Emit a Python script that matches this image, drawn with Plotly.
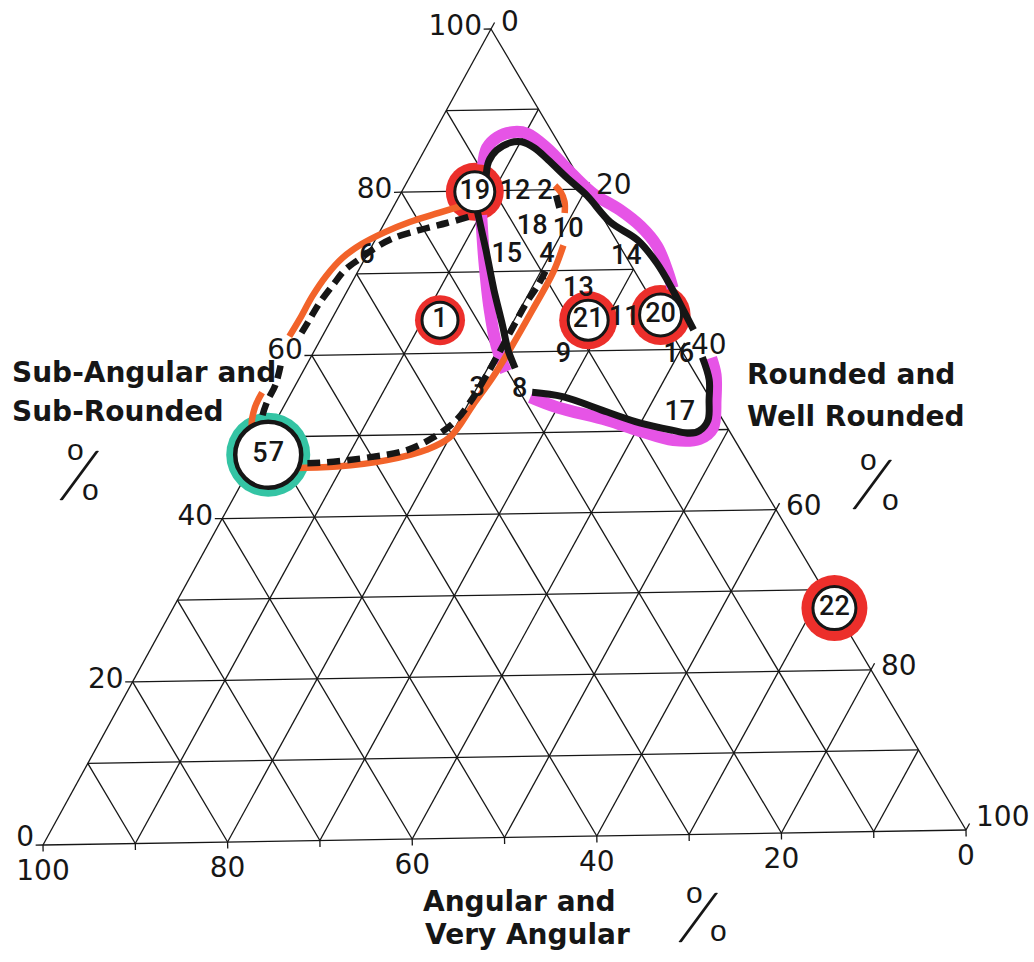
import plotly.graph_objects as go

# ---------------------------------------------------------------------------
# Sample compositions (percent).  a = Sub-Angular and Sub-Rounded (apex),
# b = Angular and Very Angular (lower left), c = Rounded and Well Rounded
# (lower right).
# ---------------------------------------------------------------------------
sample_ids = ["1", "2", "3", "4", "5", "6", "7", "8", "9", "10", "11",
              "12", "13", "14", "15", "16", "17", "18", "19", "20", "21", "22"]
sub_angular = [64.1, 79.7, 55.5, 71.9, 47.8, 72.1, 47.8, 55.3, 59.5, 75.0, 64.0,
               79.8, 67.6, 71.5, 72.0, 59.3, 52.1, 75.4, 79.9, 64.3, 63.8, 27.7]
angular = [24.0, 4.6, 24.4, 8.4, 51.9, 27.8, 50.1, 19.9, 13.0, 4.5, 4.1,
           7.8, 7.2, 0.0, 12.7, 0.6, 4.2, 8.2, 12.1, 0.0, 8.1, 0.0]
rounded = [11.9, 15.7, 20.1, 19.7, 0.3, 0.1, 2.1, 24.8, 27.5, 20.5, 31.9,
           12.4, 25.2, 28.5, 15.3, 40.1, 43.7, 16.4, 8.0, 35.7, 28.1, 72.3]

ringed_red = ["1", "19", "20", "21", "22"]
ringed_teal = ["5", "7"]

# Hand-drawn envelopes, as (a, b, c) vertices
black_top = [(81.6, 10.0, 8.4), (83.6, 8.7, 7.7), (85.0, 7.1, 7.9), (85.9, 5.2, 8.9),
             (86.0, 3.9, 10.1), (85.2, 2.9, 11.9), (83.7, 2.2, 14.1), (81.4, 1.3, 17.3),
             (79.2, 0.3, 20.5), (75.9, -0.5, 24.6), (73.6, -2.3, 28.7), (70.7, -2.9, 32.2),
             (67.4, -2.9, 35.5), (64.0, -2.7, 38.7), (62.4, -2.6, 40.2)]
black_bottom = [(59.0, -1.8, 42.8), (56.2, -1.1, 44.9), (53.7, 0.2, 46.1), (51.2, 1.6, 47.2),
                (49.9, 3.2, 46.9), (49.6, 4.4, 46.0), (50.0, 6.0, 44.0), (51.0, 9.1, 39.9),
                (52.4, 11.9, 35.7), (54.4, 15.7, 29.9), (55.0, 18.7, 26.3)]
black_stem = [(77.7, 13.0, 9.3), (72.7, 14.6, 12.7), (67.7, 16.3, 16.0),
              (63.4, 17.6, 19.0), (60.3, 18.6, 21.1), (58.0, 19.0, 23.0)]

magenta_top = [(83.2, 9.5, 7.3), (85.3, 8.0, 6.7), (86.6, 6.2, 7.2), (87.2, 4.3, 8.5),
               (87.0, 2.8, 10.2), (85.2, 1.6, 13.2), (81.8, 0.5, 17.7), (79.4, -0.5, 21.1),
               (77.4, -2.3, 24.9), (75.3, -3.5, 28.2), (72.8, -4.0, 31.2), (69.6, -3.5, 33.9),
               (67.6, -3.0, 35.4)]
magenta_stem = [(77.0, 12.9, 10.1), (71.5, 15.4, 13.1), (65.3, 18.0, 16.7),
                (60.7, 19.6, 19.7), (57.6, 20.2, 22.2)]
magenta_bottom = [(54.4, 19.2, 26.4), (53.1, 17.0, 29.9), (51.4, 12.4, 36.2), (50.0, 9.6, 40.4),
                  (48.8, 6.6, 44.6), (48.9, 3.7, 47.4), (50.2, 1.6, 48.2), (53.7, -0.5, 46.8),
                  (56.8, -2.1, 45.3), (58.9, -2.7, 43.8)]

orange_upper = [(78.2, 14.4, 7.4), (77.4, 17.2, 5.4), (76.3, 21.0, 2.7), (75.1, 24.3, 0.6),
                (73.7, 27.5, -1.2), (72.0, 30.5, -2.5), (69.8, 33.4, -3.2), (67.3, 36.2, -3.5),
                (64.6, 38.9, -3.5), (62.4, 41.2, -3.6)]
orange_left = [(55.5, 47.7, -3.2), (53.7, 49.4, -3.1), (51.3, 51.0, -2.3), (49.7, 51.5, -1.2)]
orange_lower = [(46.1, 49.5, 4.4), (46.2, 44.4, 9.4), (46.9, 38.6, 14.5), (48.1, 33.7, 18.2),
                (49.6, 30.4, 20.0), (53.6, 25.8, 20.6), (57.0, 21.9, 21.1), (60.3, 18.4, 21.3),
                (65.2, 13.4, 21.4), (69.8, 8.8, 21.4), (73.1, 6.0, 20.9)]
orange_hook = [(80.5, 3.1, 16.4), (79.7, 2.9, 17.4), (78.5, 3.1, 18.4), (77.1, 3.8, 19.1)]

dashed_upper = [(76.8, 14.4, 8.8), (76.1, 17.1, 6.8), (75.3, 20.4, 4.3), (74.4, 23.6, 2.0),
                (73.3, 26.1, 0.6), (71.9, 28.6, -0.5), (70.5, 31.0, -1.5), (68.7, 33.2, -1.9),
                (66.5, 35.8, -2.3), (64.4, 38.0, -2.4), (62.3, 40.2, -2.5)]
dashed_left = [(58.8, 44.0, -2.8), (56.4, 45.8, -2.2), (54.3, 47.8, -2.1),
               (52.1, 49.5, -1.6), (50.0, 50.5, -0.5)]
dashed_lower = [(46.7, 49.5, 3.8), (46.7, 46.0, 7.3), (47.3, 40.2, 12.5), (48.1, 35.8, 16.1),
                (49.6, 32.2, 18.2), (51.5, 28.9, 19.6), (53.8, 26.1, 20.1), (57.6, 22.1, 20.3),
                (62.4, 17.3, 20.3), (66.1, 13.6, 20.3), (68.0, 11.5, 20.5), (70.3, 9.2, 20.5)]
dashed_hook = [(79.3, 3.6, 17.1), (77.2, 4.2, 18.6)]

tick_values = [0, 20, 40, 60, 80, 100]
grid_step = 10

# ---------------------------------------------------------------------------
# Frame of the diagram on the page (corner positions of the triangle)
# ---------------------------------------------------------------------------
APEX = (491.0, 29.0)     # a = 100
LEFT = (43.0, 845.0)     # b = 100
RIGHT = (966.0, 830.0)   # c = 100

W, H = 1034, 962
INK = "#161616"
RED = "#ec2f2b"
TEAL = "#34c4a4"
ORANGE = "#f2632a"
MAGENTA = "#e654e6"


def project(a, b, c):
    s = a + b + c
    x = (a * APEX[0] + b * LEFT[0] + c * RIGHT[0]) / s
    y = (a * APEX[1] + b * LEFT[1] + c * RIGHT[1]) / s
    return x, y


def project_path(path):
    xs, ys = [], []
    for a, b, c in path:
        x, y = project(a, b, c)
        xs.append(x)
        ys.append(y)
    return xs, ys


fig = go.Figure()

# ---- triangular grid -------------------------------------------------------
gx, gy = [], []
segments = [((100, 0, 0), (0, 100, 0)), ((0, 100, 0), (0, 0, 100)), ((0, 0, 100), (100, 0, 0))]
for v in range(grid_step, 100, grid_step):
    segments.append(((v, 100 - v, 0), (v, 0, 100 - v)))      # constant a
    segments.append(((100 - v, v, 0), (0, v, 100 - v)))      # constant b
    segments.append(((100 - v, 0, v), (0, 100 - v, v)))      # constant c
for p, q in segments:
    x0, y0 = project(*p)
    x1, y1 = project(*q)
    gx += [x0, x1, None]
    gy += [y0, y1, None]

# tick stubs
stub = 0.8
for v in tick_values:
    for p, q in [((v, 100 - v, 0), (v, 100 - v + stub, -stub)),          # left side
                 ((100 - v, 0, v), (100 - v + stub, -stub, v))]:         # right side
        x0, y0 = project(*p)
        x1, y1 = project(*q)
        gx += [x0, x1, None]
        gy += [y0, y1, None]
for v in range(0, 101, grid_step):                                        # base
    x0, y0 = project(0, v, 100 - v)
    x1, y1 = project(-stub, v + stub / 2, 100 - v + stub / 2)
    gx += [x0, x1, None]
    gy += [y0, y1, None]

fig.add_trace(go.Scatter(x=gx, y=gy, mode="lines",
                         line=dict(color=INK, width=1.3), hoverinfo="skip"))

# ---- sample positions ------------------------------------------------------
px, py = [], []
for a, b, c in zip(sub_angular, angular, rounded):
    x, y = project(a, b, c)
    px.append(x)
    py.append(y)
pos = dict(zip(sample_ids, zip(px, py)))

red_ring_size = {"1": 50, "19": 58, "20": 60, "21": 58, "22": 66}
red_core_size = {"1": 36, "19": 40, "20": 42, "21": 40, "22": 43}

fig.add_trace(go.Scatter(
    x=[pos[s][0] for s in ringed_red], y=[pos[s][1] for s in ringed_red], mode="markers",
    marker=dict(size=[red_ring_size[s] for s in ringed_red], color=RED, opacity=1,
                line=dict(width=0)),
    hoverinfo="skip"))

teal_x = sum(pos[s][0] for s in ringed_teal) / len(ringed_teal)
teal_y = sum(pos[s][1] for s in ringed_teal) / len(ringed_teal)
fig.add_trace(go.Scatter(x=[teal_x], y=[teal_y], mode="markers",
                         marker=dict(size=84, color=TEAL, opacity=1, line=dict(width=0)),
                         hoverinfo="skip"))

# ---- envelopes -------------------------------------------------------------
def add_path(path, color, width, dash="solid", smooth=1.0):
    xs, ys = project_path(path)
    fig.add_trace(go.Scatter(x=xs, y=ys, mode="lines", hoverinfo="skip",
                             line=dict(color=color, width=width, dash=dash,
                                       shape="spline", smoothing=smooth)))


for path in (magenta_top, magenta_stem, magenta_bottom):
    add_path(path, MAGENTA, 12)
for path in (orange_upper, orange_left, orange_lower, orange_hook):
    add_path(path, ORANGE, 6.5)
for path in (black_top, black_bottom):
    add_path(path, INK, 7)
add_path(black_stem, INK, 7, smooth=0.6)
for path in (dashed_upper, dashed_left, dashed_lower, dashed_hook):
    add_path(path, INK, 6.5, dash="13px,7px")

# ---- circled samples -------------------------------------------------------
fig.add_trace(go.Scatter(
    x=[pos[s][0] for s in ringed_red], y=[pos[s][1] for s in ringed_red], mode="markers",
    marker=dict(size=[red_core_size[s] for s in ringed_red], color="white", opacity=1,
                line=dict(color=INK, width=3)),
    hoverinfo="skip"))
fig.add_trace(go.Scatter(x=[teal_x], y=[teal_y], mode="markers",
                         marker=dict(size=66, color="white", opacity=1,
                                     line=dict(color=INK, width=4.5)),
                         hoverinfo="skip"))

# ---- sample numbers --------------------------------------------------------
fig.add_trace(go.Scatter(x=px, y=py, mode="text", text=sample_ids,
                         textposition="middle center",
                         textfont=dict(family="Roboto, Liberation Sans, Arial, sans-serif",
                                       size=27, color=INK, weight=500),
                         hoverinfo="skip"))

# ---- tick labels -----------------------------------------------------------
tick_font = dict(family="DejaVu Sans, sans-serif", size=28, color=INK)
left_x, left_y, right_x, right_y, base_x, base_y = [], [], [], [], [], []
for v in tick_values:
    x, y = project(v, 100 - v, 0)
    left_x.append(x - 9)
    left_y.append(y - 1 - (5 if v == 0 else 0) - (2 if v == 60 else 0))
    x, y = project(100 - v, 0, v)
    right_x.append(x + 10)
    right_y.append(y - 2 - (9 if v == 100 else 0) - (3 if v == 0 else 0))
    x, y = project(0, v, 100 - v)
    base_x.append(x)
    base_y.append(y + 28)
labels = [str(v) for v in tick_values]
fig.add_trace(go.Scatter(x=left_x, y=left_y, mode="text", text=labels,
                         textposition="middle left", textfont=tick_font, hoverinfo="skip"))
fig.add_trace(go.Scatter(x=right_x, y=right_y, mode="text", text=labels,
                         textposition="middle right", textfont=tick_font, hoverinfo="skip"))
fig.add_trace(go.Scatter(x=base_x, y=base_y, mode="text", text=labels,
                         textposition="middle center", textfont=tick_font, hoverinfo="skip"))

# ---- axis titles -----------------------------------------------------------
title_font = dict(family="DejaVu Sans, sans-serif", size=28, color=INK, weight="bold")
titles = [
    ("Sub-Angular and", 10, 372),
    ("Sub-Rounded", 10, 411),
    ("Rounded and", 745, 374),
    ("Well Rounded", 745, 416),
    ("Angular and", 421, 901),
    ("Very Angular", 423, 934),
]
annotations = []
for text, x, y in titles:
    annotations.append(dict(text=text, x=x, y=y, xref="x", yref="y", showarrow=False,
                            xanchor="left", yanchor="middle", font=title_font))

# percent signs set as a raised o, a long slash and a lowered o
pct_o_font = dict(family="Liberation Sans, Arial, sans-serif", size=30, color=INK)
pct_slash_font = dict(family="Lato, Liberation Sans, sans-serif", size=74, color=INK,
                      weight=300)
for (ox1, oy1), (sx, sy), (ox2, oy2) in [((75, 449), (80, 472), (90, 489)),
                                          ((868, 459), (873, 481), (890, 499)),
                                          ((694, 892), (699, 914), (718, 930))]:
    annotations.append(dict(text="o", x=ox1, y=oy1, xref="x", yref="y", showarrow=False,
                            font=pct_o_font))
    annotations.append(dict(text="/", x=sx, y=sy, xref="x", yref="y", showarrow=False,
                            font=pct_slash_font, textangle=14))
    annotations.append(dict(text="o", x=ox2, y=oy2, xref="x", yref="y", showarrow=False,
                            font=pct_o_font))

fig.update_layout(
    width=W, height=H, autosize=False,
    margin=dict(l=0, r=0, t=0, b=0),
    paper_bgcolor="white", plot_bgcolor="white",
    showlegend=False, hovermode=False,
    xaxis=dict(range=[0, W], visible=False, fixedrange=True),
    yaxis=dict(range=[H, 0], visible=False, fixedrange=True),
    annotations=annotations,
)

fig.write_html("out.html")
